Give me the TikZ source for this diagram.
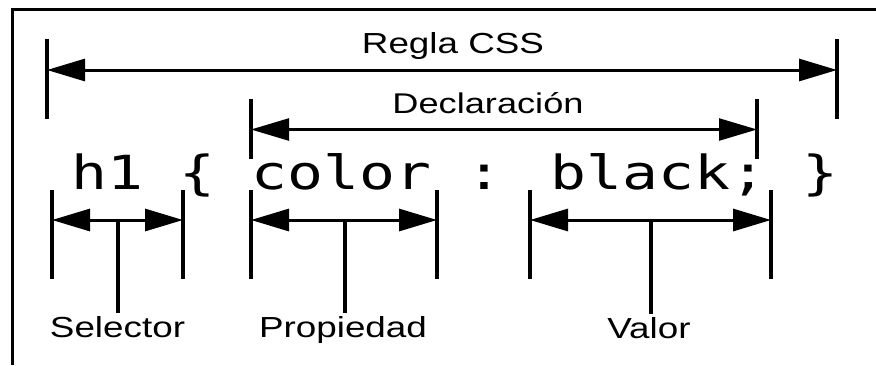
\documentclass[tikz,border=0pt]{standalone}
\usepackage{fontspec}
\setmainfont{Liberation Sans}[FakeStretch=1.27]
\newfontfamily\codefont{DejaVu Sans Mono}[FakeStretch=1.27]
\usetikzlibrary{arrows.meta}
\begin{document}
\begin{tikzpicture}[x=1pt,y=-1pt,
  tick/.style={line width=3.5pt},
  dimline/.style={line width=3pt,
    {Triangle[length=38pt,width=22pt]}-{Triangle[length=38pt,width=22pt]}},
  stemline/.style={line width=3.5pt},
  lbl/.style={font=\fontsize{29}{30}\selectfont, inner sep=3pt, anchor=base},
  frameline/.style={line width=3pt, line join=miter}]
\useasboundingbox (0,0) rectangle (876,365);
% frame
\coordinate (fb) at (12.5,365);
\coordinate (fc) at (12.5,9.5);
\coordinate (fr) at (876,9.5);
\draw[frameline] (fb) -- (fc) -- (fr);

% Regla CSS
\coordinate (r1t) at (47,39);  \coordinate (r1b) at (47,119);
\coordinate (r2t) at (837,39); \coordinate (r2b) at (837,119);
\coordinate (r1) at (47,70);   \coordinate (r2) at (837,70);
\draw[tick] (r1t) -- (r1b);
\draw[tick] (r2t) -- (r2b);
\draw[dimline] (r1) -- (r2);
\node[lbl] (regla) at (453,53) {Regla CSS};

% Declaracion
\coordinate (d1t) at (251,99);  \coordinate (d1b) at (251,159);
\coordinate (d2t) at (757,99);  \coordinate (d2b) at (757,159);
\coordinate (d1) at (251,129.5); \coordinate (d2) at (757,129.5);
\draw[tick] (d1t) -- (d1b);
\draw[tick] (d2t) -- (d2b);
\draw[dimline, line width=2.5pt] (d1) -- (d2);
\node[lbl, font=\fontsize{28.5}{30}\selectfont] (decl) at (488,113) {Declaración};

% code
\node[anchor=base west, inner sep=0pt, font=\fontsize{47}{50}\selectfont\codefont] (code) at (71.5,189) {h1 \{ color : black; \}};

% Selector
\coordinate (s1t) at (52,190);  \coordinate (s1b) at (52,279);
\coordinate (s2t) at (183,190); \coordinate (s2b) at (183,279);
\coordinate (s1) at (52,220);   \coordinate (s2) at (183,220);
\coordinate (sm) at (118,220);
\draw[tick] (s1t) -- (s1b);
\draw[tick] (s2t) -- (s2b);
\draw[dimline] (s1) -- (s2);
\node[lbl] (sel) at (117.5,337) {Selector};
\draw[stemline] (sm) -- (sm |- sel.north);

% Propiedad
\coordinate (p1t) at (251,190);  \coordinate (p1b) at (251,279);
\coordinate (p2t) at (437,190);  \coordinate (p2b) at (437,279);
\coordinate (p1) at (251,220);   \coordinate (p2) at (437,220);
\coordinate (pm) at (345,220);
\draw[tick] (p1t) -- (p1b);
\draw[tick] (p2t) -- (p2b);
\draw[dimline] (p1) -- (p2);
\node[lbl] (prop) at (343,337) {Propiedad};
\draw[stemline] (pm) -- (pm |- prop.north);

% Valor
\coordinate (v1t) at (530,190);  \coordinate (v1b) at (530,279);
\coordinate (v2t) at (771,190);  \coordinate (v2b) at (771,279);
\coordinate (v1) at (530,220);   \coordinate (v2) at (771,220);
\coordinate (vm) at (651,220);
\draw[tick] (v1t) -- (v1b);
\draw[tick] (v2t) -- (v2b);
\draw[dimline] (v1) -- (v2);
\node[lbl] (val) at (649,338) {Valor};
\draw[stemline] (vm) -- (vm |- val.north);
\end{tikzpicture}
\end{document}
